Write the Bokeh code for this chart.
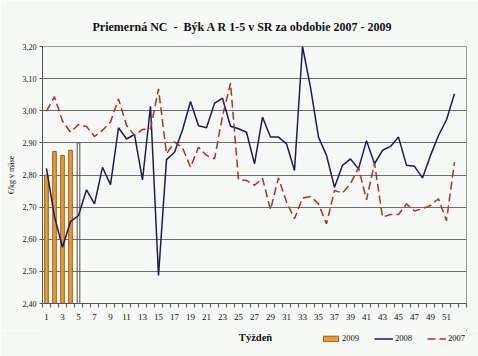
from bokeh.plotting import figure
from bokeh.layouts import column
from bokeh.models import Range1d, FixedTicker, Legend, LegendItem, Label
from bokeh.embed import file_html
from bokeh.resources import INLINE

title_text = "Priemerná NC \u00a0-\u00a0 Býk A R 1-5 v SR za obdobie 2007 - 2009"
x_title = "Týždeň"
y_title = "€/kg v mäse"

weeks_2009 = [1, 2, 3, 4]
price_2009 = [2.80, 2.873, 2.861, 2.877]
marker_week = [5]
marker_value = [2.90]

weeks = list(range(1, 53))
price_2008 = [2.821, 2.67, 2.575, 2.655, 2.674, 2.754, 2.710, 2.824, 2.770, 2.947,
              2.912, 2.926, 2.785, 3.014, 2.487, 2.848, 2.871, 2.940, 3.029, 2.953,
              2.947, 3.023, 3.039, 2.952, 2.944, 2.933, 2.835, 2.980, 2.918, 2.918,
              2.897, 2.814, 3.200, 3.073, 2.918, 2.861, 2.762, 2.830, 2.850, 2.819,
              2.907, 2.835, 2.877, 2.889, 2.918, 2.830, 2.827, 2.791, 2.861, 2.923,
              2.972, 3.053]
price_2007 = [2.999, 3.044, 2.968, 2.933, 2.957, 2.951, 2.920, 2.939, 2.965, 3.037,
              2.955, 2.923, 2.942, 2.944, 3.068, 2.866, 2.903, 2.885, 2.824, 2.886,
              2.861, 2.850, 2.983, 3.086, 2.785, 2.783, 2.768, 2.790, 2.692, 2.791,
              2.716, 2.664, 2.728, 2.733, 2.710, 2.648, 2.752, 2.744, 2.773, 2.822,
              2.723, 2.837, 2.669, 2.677, 2.677, 2.710, 2.688, 2.695, 2.705, 2.726,
              2.658, 2.840]

y_ticks = [2.40, 2.50, 2.60, 2.70, 2.80, 2.90, 3.00, 3.10, 3.20]
x_label_ticks = list(range(1, 52, 2))
series_names = ["2009", "2008", "2007"]

BG = "#f7f9f7"
SERIF = "Liberation Serif"
BAR_FILL = "#ee9a2e"
BAR_LINE = "#9a5e1c"
C2008 = "#1c1c5c"
C2007 = "#b0302c"

p = figure(width=478, height=330, output_backend="svg", toolbar_location=None,
           x_range=Range1d(0.5, 53.5), y_range=Range1d(2.40, 3.20),
           min_border_left=42, min_border_right=12, min_border_top=46, min_border_bottom=27,
           background_fill_color=BG, border_fill_color=BG)

p.title.text = title_text
p.title.text_font = SERIF
p.title.text_font_size = "12px"
p.title.text_font_style = "bold"
p.title.align = "left"
p.title.text_color = "#111111"
p.title.offset = 50
p.title.standoff = 25

p.outline_line_color = "#9a9a9a"
p.outline_line_width = 1

p.xgrid.visible = False
p.ygrid.ticker = FixedTicker(ticks=y_ticks)
p.ygrid.grid_line_color = "#6e6e6e"
p.ygrid.grid_line_width = 1

xa = p.xaxis[0]
xa.ticker = FixedTicker(ticks=x_label_ticks, minor_ticks=[w + 0.5 for w in range(0, 54)])
xa.major_tick_out = 0
xa.major_tick_in = 0
xa.minor_tick_out = 4
xa.minor_tick_in = 0
xa.minor_tick_line_color = "#555555"
xa.axis_line_color = "#555555"
xa.major_label_text_font = SERIF
xa.major_label_text_font_size = "9px"
xa.major_label_text_color = "#111111"
xa.major_label_standoff = 6

ya = p.yaxis[0]
ya.ticker = FixedTicker(ticks=y_ticks)
ya.major_label_overrides = {t: f"{t:.2f}".replace(".", ",") for t in y_ticks}
ya.major_tick_out = 3
ya.major_tick_in = 0
ya.minor_tick_out = 0
ya.minor_tick_in = 0
ya.major_tick_line_color = "#555555"
ya.axis_line_color = "#555555"
ya.major_label_text_font = SERIF
ya.major_label_text_font_size = "8px"
ya.major_label_text_color = "#111111"
ya.major_label_standoff = 3
ya.axis_label = y_title
ya.axis_label_text_font = SERIF
ya.axis_label_text_font_size = "8px"
ya.axis_label_text_font_style = "normal"
ya.axis_label_text_color = "#111111"
ya.axis_label_standoff = 4

p.vbar(x=weeks_2009, top=price_2009, bottom=2.40, width=0.45,
       fill_color=BAR_FILL, line_color=BAR_LINE, line_width=1)
p.vbar(x=marker_week, top=marker_value, bottom=2.40, width=0.33,
       fill_alpha=0, line_color="#555555", line_width=1)
p.line(weeks, price_2008, line_color=C2008, line_width=1.5)
p.line(weeks, price_2007, line_color=C2007, line_width=1.5, line_dash="8 4")

# bottom strip: x-axis title and legend on one line
p2 = figure(width=478, height=26, output_backend="svg", toolbar_location=None,
            x_range=Range1d(-20, -10), y_range=Range1d(-20, -10),
            x_axis_location=None, y_axis_location=None,
            min_border=0, min_border_left=0, min_border_right=0,
            min_border_top=0, min_border_bottom=0,
            background_fill_color=BG, border_fill_color=BG)
p2.grid.visible = False
p2.outline_line_color = None

# legend proxies (same data, outside the strip's visible range)
r_bar = p2.vbar(x=weeks_2009, top=price_2009, width=0.45, fill_color=BAR_FILL,
                line_color=BAR_LINE, line_width=1)
r_08 = p2.line(weeks, price_2008, line_color=C2008, line_width=1.5)
r_07 = p2.line(weeks, price_2007, line_color=C2007, line_width=1.5, line_dash="8 4")

p2.add_layout(Label(x=213, y=19, x_units="screen", y_units="screen", text=x_title,
                    text_align="center", text_baseline="middle", text_font=SERIF,
                    text_font_size="10.5px", text_font_style="bold", text_color="#111111"))

legend = Legend(items=[LegendItem(label=series_names[0], renderers=[r_bar]),
                       LegendItem(label=series_names[1], renderers=[r_08]),
                       LegendItem(label=series_names[2], renderers=[r_07])],
                orientation="horizontal", location=(279, 12),
                background_fill_alpha=0, border_line_alpha=0,
                label_text_font=SERIF, label_text_font_size="8.5px",
                label_text_color="#111111", glyph_width=19, glyph_height=7,
                label_standoff=2, spacing=15, padding=0, margin=0,
                label_height=12, label_width=10)
p2.add_layout(legend, "center")

layout = column(p, p2, spacing=0)
open("out.html", "w").write(file_html(layout, INLINE))
